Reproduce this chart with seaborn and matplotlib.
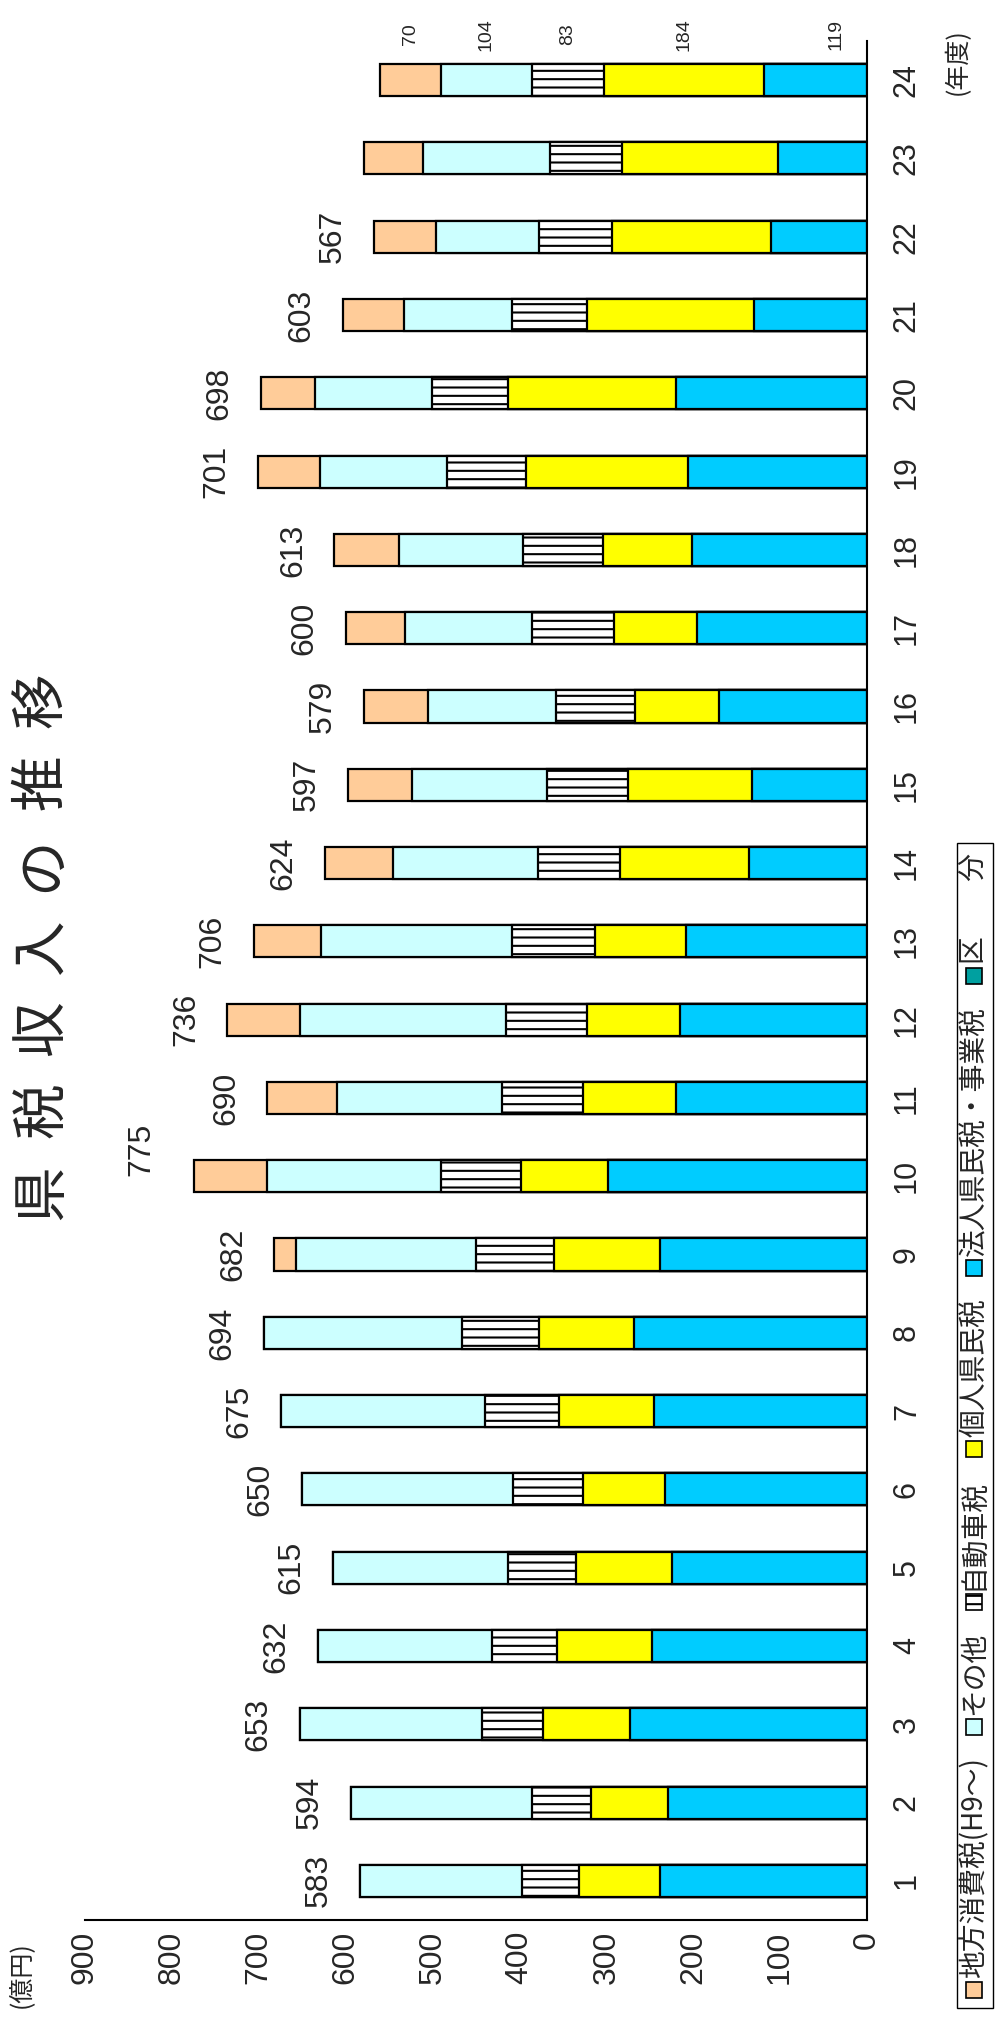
import numpy as np
import pandas as pd
import matplotlib.pyplot as plt
import seaborn as sns
from matplotlib.patches import Rectangle

# 年度 (1..24) and tax revenue by category (億円)
years = list(range(1, 25))
houjin = [238, 229, 273, 247, 225, 232, 245, 268, 238, 298, 220, 215,
          208, 136, 132, 170, 196, 201, 206, 220, 130, 111, 102, 119]
kojin = [93, 89, 100, 110, 110, 95, 110, 110, 122, 100, 107, 107,
         105, 148, 143, 97, 95, 103, 187, 193, 192, 182, 180, 184]
jidousha = [66, 67, 70, 75, 78, 80, 85, 88, 90, 92, 93, 94,
            96, 95, 93, 91, 94, 92, 90, 88, 86, 85, 83, 83]
sonota = [186, 209, 210, 200, 202, 243, 235, 228, 207, 201, 190, 236,
          219, 167, 156, 147, 147, 143, 147, 134, 125, 118, 146, 104]
chihou = [0, 0, 0, 0, 0, 0, 0, 0, 25, 84, 80, 84,
          78, 78, 73, 74, 68, 74, 71, 63, 70, 71, 68, 70]
totals = [583, 594, 653, 632, 615, 650, 675, 694, 682, 775, 690, 736,
          706, 624, 597, 579, 600, 613, 701, 698, 603, 567, 579, 560]
labeled_years = list(range(1, 23))
detail_year = 24

names = ['法人県民税・事業税', '個人県民税', '自動車税', 'その他', '地方消費税(H9～)']
colors = ['#00CCFF', '#FFFF00', 'white', '#CCFFFF', '#FFCC99']
hatches = [None, None, '--', None, None]

sns.set_theme(style='white')
plt.rcParams['font.family'] = ['Noto Sans CJK JP', 'DejaVu Sans']
plt.rcParams['hatch.linewidth'] = 1.5
num_font = ['Liberation Sans', 'DejaVu Sans']

df = pd.DataFrame({'year': [str(y) for y in years], 'houjin': houjin, 'kojin': kojin,
                   'jidousha': jidousha, 'sonota': sonota, 'chihou': chihou})
cols = ['houjin', 'kojin', 'jidousha', 'sonota', 'chihou']
cum = df[cols].cumsum(axis=1)
cum['year'] = df['year']
order = [str(y) for y in reversed(years)]

W, H = 996, 2025
fig = plt.figure(figsize=(W / 100, H / 100), dpi=100)
ax = fig.add_axes([85 / W, 105 / H, 782 / W, 1879 / H])

# stacked bars drawn as overlapping cumulative bars (outermost first)
for i in reversed(range(len(cols))):
    sns.barplot(data=cum, x=cols[i], y='year', order=order, orient='h',
                color=colors[i], saturation=1, edgecolor='black', linewidth=1.6,
                width=0.41, hatch=hatches[i], errorbar=None, ax=ax)

ax.set_xlim(900, 0)
ax.set_ylim(23.5, -0.5)
ax.set_xlabel('')
ax.set_ylabel('')
ax.set_xticks(range(0, 1000, 100))
ax.set_xticklabels([str(v) for v in range(0, 1000, 100)], rotation=90, fontsize=23)
ax.tick_params(axis='x', direction='in', length=8, width=1.5, color='black', pad=8,
               labelfontfamily='Liberation Sans')
ax.yaxis.tick_right()
ax.set_yticks(range(len(order)))
ax.set_yticklabels(order, rotation=90, fontsize=22, va='center')
ax.tick_params(axis='y', length=0, pad=18, labelfontfamily='Liberation Sans')
for s in ['left', 'top']:
    ax.spines[s].set_visible(False)
for s in ['bottom', 'right']:
    ax.spines[s].set_color('black')
    ax.spines[s].set_linewidth(1.5)

# totals
for y, t in zip(years, totals):
    if y not in labeled_years:
        continue
    pos = order.index(str(y))
    dx, dy = (-27, 19) if y == 10 else (-19, 0)
    ax.annotate(str(t), xy=(t, pos), xytext=(dx, dy), textcoords='offset points',
                rotation=90, ha='right', va='center', fontsize=23, family=num_font)

# segment values of the last year
k = years.index(detail_year)
pos = order.index(str(detail_year))
start = 0
for c in cols:
    v = df[c][k]
    xc = start + v / 2 if c != 'houjin' else v * 0.3
    ax.annotate(str(v), xy=(xc, pos), xytext=(0, 33), textcoords='offset points',
                rotation=90, ha='center', va='center', fontsize=14, family=num_font)
    start += v

# title, one character at a time
title_chars = ['県', '税', '収', '入', 'の', '推', '移']
for j, ch in enumerate(title_chars):
    fig.text(42 / W, 1 - (1192 - j * 82) / H, ch, rotation=90, fontsize=40,
             ha='center', va='center')

fig.text(958 / W, 1 - 62 / H, '(年度)', rotation=90, fontsize=18, ha='center', va='center')
fig.text(22 / W, 1 - 1975 / H, '(億円)', rotation=90, fontsize=18, ha='center', va='center')

# legend (rotated, laid out bottom to top) inside a thin frame
renderer = fig.canvas.get_renderer()
leg_items = names[::-1] + ['区　　分']
leg_colors = colors[::-1] + ['#00A0A0']
leg_hatch = hatches[::-1] + [None]
y0 = 1998
yy = y0
for name, col, h in zip(leg_items, leg_colors, leg_hatch):
    fig.patches.append(Rectangle((966 / W, 1 - yy / H), 16 / W, 16 / H,
                                 transform=fig.transFigure, facecolor=col,
                                 edgecolor='black', linewidth=1.2, hatch=h))
    t = fig.text(974 / W, 1 - (yy - 20) / H, name, rotation=90, fontsize=20,
                 ha='center', va='bottom')
    yy -= 20 + t.get_window_extent(renderer).height + 22
top = yy + 12
fig.patches.append(Rectangle((957 / W, 1 - (y0 + 10) / H), 36 / W, (y0 + 10 - top) / H,
                             transform=fig.transFigure, facecolor='none',
                             edgecolor='black', linewidth=1.0))

fig.savefig('out.png', dpi=100)
